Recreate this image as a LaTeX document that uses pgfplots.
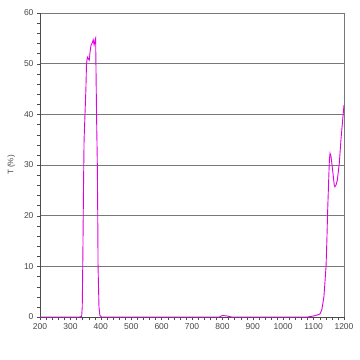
\documentclass[border=0pt]{standalone}
\usepackage{pgfplots}
\pgfplotsset{compat=1.18}
\usepackage{fontspec}
\setmainfont{Liberation Sans}
\definecolor{curve}{RGB}{224,0,224}
\definecolor{gridc}{RGB}{120,120,120}
\definecolor{txt}{RGB}{70,70,70}
\begin{document}
\begin{tikzpicture}[x=1pt,y=1pt]
\begin{axis}[
  scale only axis, width=304pt, height=304pt,
  xmin=200, xmax=1200, ymin=0, ymax=60,
  xtick={200,300,...,1200}, ytick={0,10,...,60},
  minor x tick num=4, minor y tick num=4,
  ymajorgrids, major grid style={gridc, line width=0.7pt},
  axis line style={gridc},
  axis x line*=bottom, axis y line*=left,
  x axis line style={black!70},
  y axis line style={black!70},
  tick align=outside,
  major tick length=3pt, minor tick length=3pt,
  tick style={black!70},
  ticklabel style={font=\fontsize{8.5}{9}\selectfont, text=txt},
  /pgf/number format/assume math mode=true,
  /pgf/number format/1000 sep={},
  ylabel={T (\%)}, ylabel style={font=\fontsize{8}{9}\selectfont, text=txt, yshift=2pt},
  clip=false,
]
\draw[gridc, line width=0.7pt] (axis cs:1200,0) -- (axis cs:1200,60);
\addplot[curve, line width=0.9pt] coordinates {
(200,0) (330,0) (337,0.1) (339,2) (341,12) (343,25) (345,35) (348,40)
(351,45) (353,50) (356,51.3) (359,51) (362,50.7) (365,52.5) (368,53.7)
(372,54.1) (375,54.7) (378,53.7) (381,54.6) (383,55) (384,50) (386,40)
(388.5,30.4) (390,19.8) (391,9.9) (394,2) (397,0.3) (402,0) (790,0)
(800,0.3) (815,0.2) (830,0) (1080,0) (1100,0.2) (1112,0.4) (1121,0.6)
(1127,1.4) (1134,4) (1141,10) (1144,15.8) (1146,20.5) (1149.6,27)
(1152,31) (1154,32.3) (1157,31.8) (1159.5,30.6) (1165,27.7) (1168,26)
(1170,25.7) (1174,26.1) (1178,27) (1184.5,30.3) (1190,35) (1195.6,38.9)
(1200,41.8)
};
\end{axis}
\pgfresetboundingbox
\path (-40pt,-43pt) rectangle (320pt,317pt);
\end{tikzpicture}
\end{document}
